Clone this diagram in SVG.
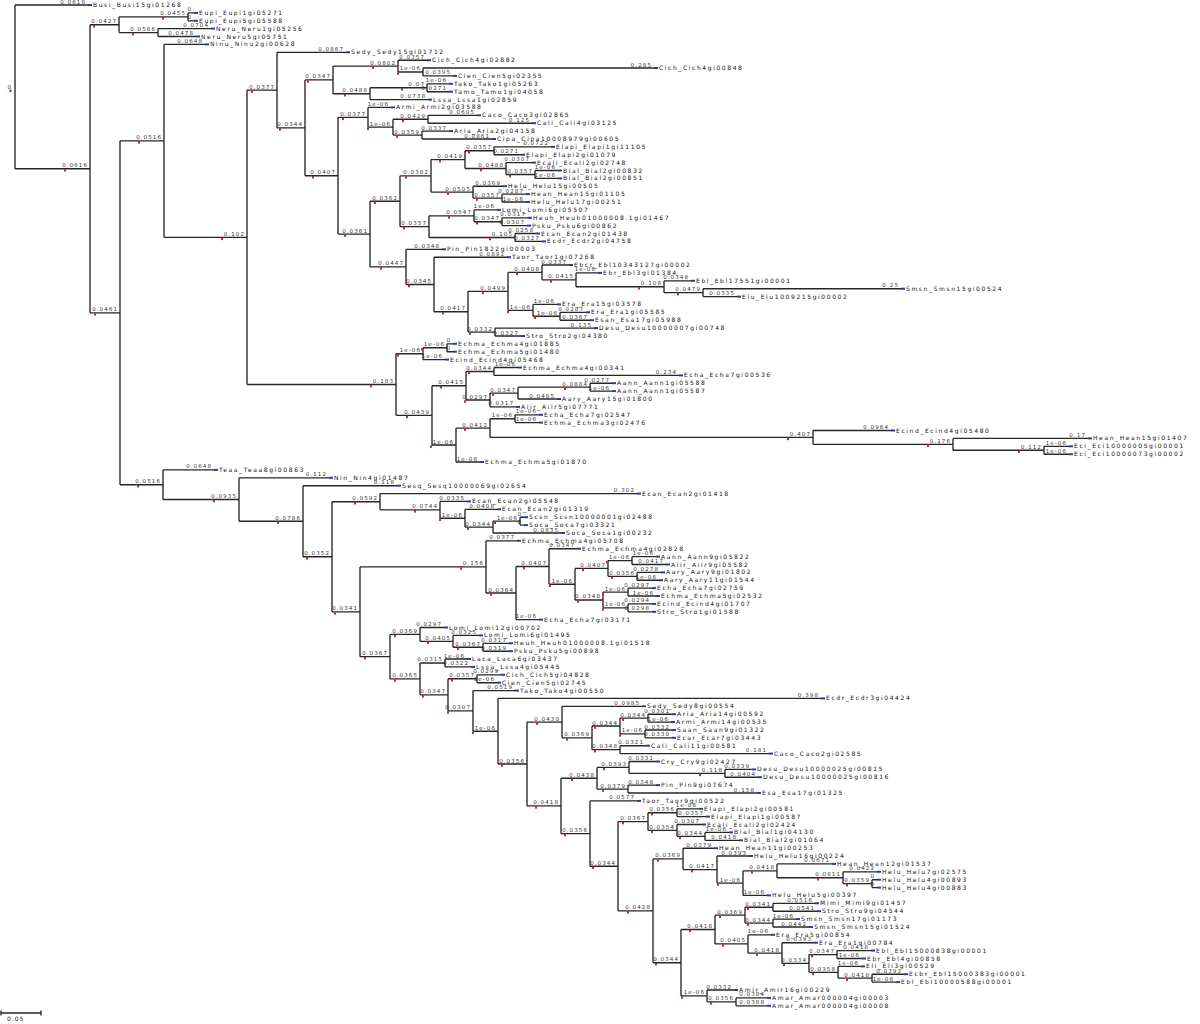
<svg xmlns="http://www.w3.org/2000/svg" width="1200" height="1024" viewBox="0 0 1200 1024">
<style>
.e{stroke:#262626;stroke-width:1.35;fill:none}
.n{font-family:"DejaVu Sans",sans-serif;font-size:6px;letter-spacing:1.6px;fill:#111}
.b{font-family:"DejaVu Sans",sans-serif;font-size:5.5px;letter-spacing:1.1px;fill:#333;text-anchor:end}
.u{width:4px;height:2px;fill:#2a35c8}
.r{width:2px;height:2.5px;fill:#cc2a2a}
</style>
<rect width="1200" height="1024" fill="#fff"/>
<g id="connectors">
<path class="e" d="M15,5V168.75M15,5H88M15,168.75H90"/>
<path class="e" d="M90,24.7V312.8M90,24.7H119M90,312.8H120"/>
<path class="e" d="M119,16.85V32.55M119,16.85H188M119,32.55H158"/>
<path class="e" d="M188,12.9V20.8M188,12.9H194M188,20.8H194"/>
<path class="e" d="M158,28.6V36.5M158,28.6H211M158,36.5H196"/>
<path class="e" d="M120,140.85V484.7M120,140.85H164M120,484.7H163"/>
<path class="e" d="M164,44.4V237.3M164,44.4H205M164,237.3H247"/>
<path class="e" d="M247,90.05V384.5M247,90.05H277M247,384.5H396"/>
<path class="e" d="M277,52.3V127.8M277,52.3H346M277,127.8H305"/>
<path class="e" d="M305,79.9V175.7M305,79.9H333M305,175.7H338"/>
<path class="e" d="M333,66.1V93.7M333,66.1H398M333,93.7H370"/>
<path class="e" d="M398,60.2V71.95M398,60.2H427M398,71.95H423"/>
<path class="e" d="M423,68V75.9M423,68H654M423,75.9H453"/>
<path class="e" d="M370,87.75V99.6M370,87.75H427M370,99.6H428"/>
<path class="e" d="M427,83.8V91.7M427,83.8H449M427,91.7H449"/>
<path class="e" d="M338,117.3V234.05M338,117.3H368M338,234.05H370"/>
<path class="e" d="M368,107.4V127.15M368,107.4H391M368,127.15H393"/>
<path class="e" d="M393,119.25V135.05M393,119.25H428M393,135.05H422"/>
<path class="e" d="M428,115.3V123.2M428,115.3H477M428,123.2H532"/>
<path class="e" d="M422,131.1V139M422,131.1H449M422,139H492"/>
<path class="e" d="M370,201.2V266.9M370,201.2H400M370,266.9H406"/>
<path class="e" d="M400,175.85V226.6M400,175.85H431M400,226.6H429"/>
<path class="e" d="M431,159.6V192.1M431,159.6H465M431,192.1H473"/>
<path class="e" d="M465,150.75V168.5M465,150.75H494M465,168.5H506"/>
<path class="e" d="M494,146.8V154.7M494,146.8H551M494,154.7H521"/>
<path class="e" d="M506,162.6V174.45M506,162.6H532M506,174.45H535"/>
<path class="e" d="M535,170.5V178.4M535,170.5H558M535,178.4H558"/>
<path class="e" d="M473,186.2V198.05M473,186.2H503M473,198.05H502"/>
<path class="e" d="M502,194.1V202M502,194.1H526M502,202H526"/>
<path class="e" d="M429,215.8V237.45M429,215.8H474M429,237.45H515"/>
<path class="e" d="M474,209.9V221.7M474,209.9H497M474,221.7H502"/>
<path class="e" d="M502,217.8V225.6M502,217.8H528M502,225.6H527"/>
<path class="e" d="M515,233.5V241.4M515,233.5H536M515,241.4H542"/>
<path class="e" d="M406,249.3V284.45M406,249.3H442M406,284.45H434"/>
<path class="e" d="M434,257.2V311.7M434,257.2H507M434,311.7H468"/>
<path class="e" d="M468,291.35V332.05M468,291.35H508M468,332.05H495"/>
<path class="e" d="M508,272.4V310.3M508,272.4H542M508,310.3H533"/>
<path class="e" d="M542,265V279.8M542,265H569M542,279.8H576"/>
<path class="e" d="M576,272.9V286.7M576,272.9H598M576,286.7H664"/>
<path class="e" d="M664,280.8V292.65M664,280.8H691M664,292.65H703"/>
<path class="e" d="M703,288.7V296.6M703,288.7H901M703,296.6H737"/>
<path class="e" d="M533,304.4V316.25M533,304.4H557M533,316.25H560"/>
<path class="e" d="M560,312.3V320.2M560,312.3H586M560,320.2H590"/>
<path class="e" d="M495,328.1V336M495,328.1H594M495,336H521"/>
<path class="e" d="M396,353.7V415.35M396,353.7H423M396,415.35H432"/>
<path class="e" d="M423,347.75V359.6M423,347.75H447M423,359.6H445"/>
<path class="e" d="M447,343.8V351.7M447,343.8H453M447,351.7H453"/>
<path class="e" d="M432,385.7V445M432,385.7H466M432,445H456"/>
<path class="e" d="M466,371.45V400M466,371.45H494M466,400H490"/>
<path class="e" d="M494,367.5V375.4M494,367.5H518M494,375.4H679"/>
<path class="e" d="M490,393.1V406.9M490,393.1H518M490,406.9H516"/>
<path class="e" d="M518,387.15V399M518,387.15H590M518,399H557"/>
<path class="e" d="M590,383.2V391.1M590,383.2H612M590,391.1H612"/>
<path class="e" d="M456,428.05V462M456,428.05H490M456,462H480"/>
<path class="e" d="M490,418.7V437.4M490,418.7H515M490,437.4H813"/>
<path class="e" d="M515,414.8V422.6M515,414.8H539M515,422.6H539"/>
<path class="e" d="M813,430.5V444.3M813,430.5H891M813,444.3H953"/>
<path class="e" d="M953,438.4V450.25M953,438.4H1088M953,450.25H1044"/>
<path class="e" d="M1044,446.3V454.2M1044,446.3H1069M1044,454.2H1069"/>
<path class="e" d="M163,469.9V499.5M163,469.9H214M163,499.5H239"/>
<path class="e" d="M239,477.8V521.2M239,477.8H329M239,521.2H303"/>
<path class="e" d="M303,485.7V556.75M303,485.7H397M303,556.75H332"/>
<path class="e" d="M332,501.7V611.8M332,501.7H380M332,611.8H360"/>
<path class="e" d="M380,493.6V509.8M380,493.6H637M380,509.8H440"/>
<path class="e" d="M440,501.4V518.2M440,501.4H467M440,518.2H465"/>
<path class="e" d="M465,509.3V527.1M465,509.3H497M465,527.1H493"/>
<path class="e" d="M493,521.15V533M493,521.15H520M493,533H561"/>
<path class="e" d="M520,517.2V525.1M520,517.2H524M520,525.1H524"/>
<path class="e" d="M360,566.9V656.65M360,566.9H486M360,656.65H390"/>
<path class="e" d="M486,540.8V593M486,540.8H517M486,593H516"/>
<path class="e" d="M516,566.45V619.6M516,566.45H549M516,619.6H539"/>
<path class="e" d="M549,548.7V584.2M549,548.7H577M549,584.2H575"/>
<path class="e" d="M575,568.4V599.95M575,568.4H608M575,599.95H603"/>
<path class="e" d="M608,560.55V576.3M608,560.55H632M608,576.3H637"/>
<path class="e" d="M632,556.6V564.5M632,556.6H656M632,564.5H666"/>
<path class="e" d="M637,572.4V580.2M637,572.4H661M637,580.2H659"/>
<path class="e" d="M603,592.05V607.85M603,592.05H628M603,607.85H628"/>
<path class="e" d="M628,588.1V596M628,588.1H652M628,596H656"/>
<path class="e" d="M628,603.9V611.8M628,603.9H652M628,611.8H652"/>
<path class="e" d="M390,634.4V678.9M390,634.4H420M390,678.9H420"/>
<path class="e" d="M420,627.5V641.3M420,627.5H444M420,641.3H453"/>
<path class="e" d="M453,635.4V647.25M453,635.4H479M453,647.25H483"/>
<path class="e" d="M483,643.3V651.2M483,643.3H509M483,651.2H509"/>
<path class="e" d="M420,662.95V694.8M420,662.95H445M420,694.8H448"/>
<path class="e" d="M445,659V666.9M445,659H467M445,666.9H471"/>
<path class="e" d="M448,678.75V710.9M448,678.75H477M448,710.9H473"/>
<path class="e" d="M477,674.8V682.7M477,674.8H501M477,682.7H497"/>
<path class="e" d="M473,690.6V731.2M473,690.6H515M473,731.2H498"/>
<path class="e" d="M498,698.4V764M498,698.4H821M498,764H527"/>
<path class="e" d="M527,722.05V805.9M527,722.05H562M527,805.9H561"/>
<path class="e" d="M562,706.3V737.8M562,706.3H642M562,737.8H592"/>
<path class="e" d="M592,726V749.65M592,726H620M592,749.65H620"/>
<path class="e" d="M620,718.15V733.9M620,718.15H648M620,733.9H645"/>
<path class="e" d="M648,714.2V722.1M648,714.2H672M648,722.1H671"/>
<path class="e" d="M645,730V737.8M645,730H672M645,737.8H672"/>
<path class="e" d="M620,745.7V753.6M620,745.7H646M620,753.6H769"/>
<path class="e" d="M561,778.2V833.55M561,778.2H597M561,833.55H590"/>
<path class="e" d="M597,767.4V789.05M597,767.4H629M597,789.05H628"/>
<path class="e" d="M629,761.5V773.3M629,761.5H656M629,773.3H725"/>
<path class="e" d="M725,769.4V777.2M725,769.4H752M725,777.2H758"/>
<path class="e" d="M628,785.1V793M628,785.1H656M628,793H757"/>
<path class="e" d="M590,800.9V866.2M590,800.9H637M590,866.2H618"/>
<path class="e" d="M618,821.55V910.8M618,821.55H648M618,910.8H653"/>
<path class="e" d="M648,812.7V830.4M648,812.7H677M648,830.4H677"/>
<path class="e" d="M677,808.8V816.6M677,808.8H699M677,816.6H706"/>
<path class="e" d="M677,824.5V836.35M677,824.5H702M677,836.35H705"/>
<path class="e" d="M705,832.4V840.3M705,832.4H729M705,840.3H739"/>
<path class="e" d="M653,858.9V962.7M653,858.9H683M653,962.7H681"/>
<path class="e" d="M683,848.2V869.55M683,848.2H714M683,869.55H717"/>
<path class="e" d="M717,856V883.1M717,856H749M717,883.1H743"/>
<path class="e" d="M743,870.8V895.4M743,870.8H777M743,895.4H767"/>
<path class="e" d="M777,863.9V877.7M777,863.9H832M777,877.7H843"/>
<path class="e" d="M843,871.8V883.65M843,871.8H877M843,883.65H872"/>
<path class="e" d="M872,879.7V887.6M872,879.7H877M872,887.6H877"/>
<path class="e" d="M681,929.5V995.9M681,929.5H715M681,995.9H707"/>
<path class="e" d="M715,915.15V943.9M715,915.15H745M715,943.9H748"/>
<path class="e" d="M745,907.25V923.05M745,907.25H773M745,923.05H773"/>
<path class="e" d="M773,903.3V911.2M773,903.3H815M773,911.2H817"/>
<path class="e" d="M773,919.1V927M773,919.1H796M773,927H809"/>
<path class="e" d="M748,934.8V953.05M748,934.8H771M748,953.05H782"/>
<path class="e" d="M782,942.7V963.4M782,942.7H814M782,963.4H809"/>
<path class="e" d="M809,954.55V972.3M809,954.55H837M809,972.3H838"/>
<path class="e" d="M837,950.6V958.5M837,950.6H871M837,958.5H862"/>
<path class="e" d="M838,966.4V978.15M838,966.4H861M838,978.15H872"/>
<path class="e" d="M872,974.2V982.1M872,974.2H904M872,982.1H896"/>
<path class="e" d="M707,990V1001.85M707,990H734M707,1001.85H736"/>
<path class="e" d="M736,997.9V1005.8M736,997.9H767M736,1005.8H767"/>
</g>
<g id="inner-nodes">
<g id="root"><rect class="r" x="9.5" y="89.5"/><text class="b" x="12" y="89">0</text></g>
<g id="nA"><rect class="r" x="64" y="169.05"/><text class="b" x="88" y="167.25">0.0616</text></g>
<g id="nB"><rect class="r" x="93" y="25"/><text class="b" x="117" y="23.2">0.0427</text></g>
<g id="nC"><rect class="r" x="162" y="17.15"/><text class="b" x="186" y="15.35">0.0455</text></g>
<g id="nD"><rect class="r" x="132" y="32.85"/><text class="b" x="156" y="31.05">0.0586</text></g>
<g id="nBb"><rect class="r" x="94" y="313.1"/><text class="b" x="118" y="311.3">0.0461</text></g>
<g id="nE"><rect class="r" x="138" y="141.15"/><text class="b" x="162" y="139.35">0.0516</text></g>
<g id="nG"><rect class="r" x="221" y="237.6"/><text class="b" x="245" y="235.8">0.102</text></g>
<g id="nH"><rect class="r" x="251" y="90.35"/><text class="b" x="275" y="88.55">0.0377</text></g>
<g id="nJ"><rect class="r" x="279" y="128.1"/><text class="b" x="303" y="126.3">0.0344</text></g>
<g id="nK"><rect class="r" x="307" y="80.2"/><text class="b" x="331" y="78.4">0.0347</text></g>
<g id="nM"><rect class="r" x="312" y="176"/><text class="b" x="336" y="174.2">0.0407</text></g>
<g id="nN"><rect class="r" x="372" y="66.4"/><text class="b" x="396" y="64.6">0.0802</text></g>
<g id="nP"><rect class="r" x="397" y="72.25"/><text class="b" x="421" y="70.45">1e-06</text></g>
<g id="nO"><rect class="r" x="344" y="94"/><text class="b" x="368" y="92.2">0.0488</text></g>
<g id="nQ"><rect class="r" x="401" y="88.05"/><text class="b" x="425" y="86.25">0.07</text></g>
<g id="nS"><rect class="r" x="342" y="117.6"/><text class="b" x="366" y="115.8">0.0377</text></g>
<g id="nU"><rect class="r" x="367" y="127.45"/><text class="b" x="391" y="125.65">1e-06</text></g>
<g id="nV"><rect class="r" x="402" y="119.55"/><text class="b" x="426" y="117.75">0.0429</text></g>
<g id="nW"><rect class="r" x="396" y="135.35"/><text class="b" x="420" y="133.55">0.0359</text></g>
<g id="nT"><rect class="r" x="344" y="234.35"/><text class="b" x="368" y="232.55">0.0361</text></g>
<g id="nX"><rect class="r" x="374" y="201.5"/><text class="b" x="398" y="199.7">0.0362</text></g>
<g id="nY"><rect class="r" x="380" y="267.2"/><text class="b" x="404" y="265.4">0.0447</text></g>
<g id="nZ"><rect class="r" x="405" y="176.15"/><text class="b" x="429" y="174.35">0.0382</text></g>
<g id="nAA"><rect class="r" x="403" y="226.9"/><text class="b" x="427" y="225.1">0.0357</text></g>
<g id="nAB"><rect class="r" x="439" y="159.9"/><text class="b" x="463" y="158.1">0.0419</text></g>
<g id="nAC"><rect class="r" x="447" y="192.4"/><text class="b" x="471" y="190.6">0.0505</text></g>
<g id="nAD"><rect class="r" x="468" y="151.05"/><text class="b" x="492" y="149.25">0.0357</text></g>
<g id="nAE"><rect class="r" x="480" y="168.8"/><text class="b" x="504" y="167">0.0488</text></g>
<g id="nAF"><rect class="r" x="509" y="174.75"/><text class="b" x="533" y="172.95">0.0357</text></g>
<g id="nAG"><rect class="r" x="476" y="198.35"/><text class="b" x="500" y="196.55">0.0357</text></g>
<g id="nAH"><rect class="r" x="448" y="216.1"/><text class="b" x="472" y="214.3">0.0547</text></g>
<g id="nAI"><rect class="r" x="476" y="222"/><text class="b" x="500" y="220.2">0.0347</text></g>
<g id="nAJ"><rect class="r" x="489" y="237.75"/><text class="b" x="513" y="235.95">0.105</text></g>
<g id="nAK"><rect class="r" x="408" y="284.75"/><text class="b" x="432" y="282.95">0.0345</text></g>
<g id="nAL"><rect class="r" x="442" y="312"/><text class="b" x="466" y="310.2">0.0417</text></g>
<g id="nAN"><rect class="r" x="482" y="291.65"/><text class="b" x="506" y="289.85">0.0499</text></g>
<g id="nAO"><rect class="r" x="516" y="272.7"/><text class="b" x="540" y="270.9">0.0408</text></g>
<g id="nAP"><rect class="r" x="550" y="280.1"/><text class="b" x="574" y="278.3">0.0415</text></g>
<g id="nAQ"><rect class="r" x="638" y="287"/><text class="b" x="662" y="285.2">0.108</text></g>
<g id="nAR"><rect class="r" x="677" y="292.95"/><text class="b" x="701" y="291.15">0.0479</text></g>
<g id="nAS"><rect class="r" x="507" y="310.6"/><text class="b" x="531" y="308.8">1e-06</text></g>
<g id="nAT"><rect class="r" x="534" y="316.55"/><text class="b" x="558" y="314.75">1e-06</text></g>
<g id="nAM"><rect class="r" x="469" y="332.35"/><text class="b" x="493" y="330.55">0.0332</text></g>
<g id="nI"><rect class="r" x="370" y="384.8"/><text class="b" x="394" y="383">0.183</text></g>
<g id="nAU"><rect class="r" x="397" y="354"/><text class="b" x="421" y="352.2">1e-06</text></g>
<g id="nAV"><rect class="r" x="421" y="348.05"/><text class="b" x="445" y="346.25">1e-06</text></g>
<g id="nAW"><rect class="r" x="406" y="415.65"/><text class="b" x="430" y="413.85">0.0439</text></g>
<g id="nAX"><rect class="r" x="440" y="386"/><text class="b" x="464" y="384.2">0.0415</text></g>
<g id="nAY"><rect class="r" x="468" y="371.75"/><text class="b" x="492" y="369.95">0.0344</text></g>
<g id="nAZ"><rect class="r" x="464" y="400.3"/><text class="b" x="488" y="398.5">0.0297</text></g>
<g id="nBA"><rect class="r" x="492" y="393.4"/><text class="b" x="516" y="391.6">0.0347</text></g>
<g id="nBB"><rect class="r" x="564" y="387.45"/><text class="b" x="588" y="385.65">0.0884</text></g>
<g id="nBC"><rect class="r" x="430" y="445.3"/><text class="b" x="454" y="443.5">1e-06</text></g>
<g id="nBD"><rect class="r" x="464" y="428.35"/><text class="b" x="488" y="426.55">0.0412</text></g>
<g id="nBE"><rect class="r" x="489" y="419"/><text class="b" x="513" y="417.2">1e-06</text></g>
<g id="nBF"><rect class="r" x="787" y="437.7"/><text class="b" x="811" y="435.9">0.407</text></g>
<g id="nBG"><rect class="r" x="927" y="444.6"/><text class="b" x="951" y="442.8">0.176</text></g>
<g id="nBH"><rect class="r" x="1018" y="450.55"/><text class="b" x="1042" y="448.75">0.112</text></g>
<g id="nF"><rect class="r" x="137" y="485"/><text class="b" x="161" y="483.2">0.0516</text></g>
<g id="nBI"><rect class="r" x="213" y="499.8"/><text class="b" x="237" y="498">0.0935</text></g>
<g id="nBJ"><rect class="r" x="277" y="521.5"/><text class="b" x="301" y="519.7">0.0786</text></g>
<g id="nBK"><rect class="r" x="306" y="557.05"/><text class="b" x="330" y="555.25">0.0352</text></g>
<g id="nBL"><rect class="r" x="354" y="502"/><text class="b" x="378" y="500.2">0.0592</text></g>
<g id="nBM"><rect class="r" x="414" y="510.1"/><text class="b" x="438" y="508.3">0.0744</text></g>
<g id="nBN"><rect class="r" x="439" y="518.5"/><text class="b" x="463" y="516.7">1e-06</text></g>
<g id="nBO"><rect class="r" x="467" y="527.4"/><text class="b" x="491" y="525.6">0.0344</text></g>
<g id="nBP"><rect class="r" x="494" y="521.45"/><text class="b" x="518" y="519.65">1e-06</text></g>
<g id="nCA"><rect class="r" x="334" y="612.1"/><text class="b" x="358" y="610.3">0.0341</text></g>
<g id="nBQ"><rect class="r" x="460" y="567.2"/><text class="b" x="484" y="565.4">0.156</text></g>
<g id="nBR"><rect class="r" x="490" y="593.3"/><text class="b" x="514" y="591.5">0.0364</text></g>
<g id="nBS"><rect class="r" x="523" y="566.75"/><text class="b" x="547" y="564.95">0.0407</text></g>
<g id="nBT"><rect class="r" x="549" y="584.5"/><text class="b" x="573" y="582.7">1e-06</text></g>
<g id="nBU"><rect class="r" x="582" y="568.7"/><text class="b" x="606" y="566.9">0.0407</text></g>
<g id="nBV"><rect class="r" x="606" y="560.85"/><text class="b" x="630" y="559.05">1e-06</text></g>
<g id="nBW"><rect class="r" x="611" y="576.6"/><text class="b" x="635" y="574.8">0.0356</text></g>
<g id="nBX"><rect class="r" x="577" y="600.25"/><text class="b" x="601" y="598.45">0.0348</text></g>
<g id="nBY"><rect class="r" x="602" y="592.35"/><text class="b" x="626" y="590.55">1e-06</text></g>
<g id="nBZ"><rect class="r" x="602" y="608.15"/><text class="b" x="626" y="606.35">1e-06</text></g>
<g id="nCB"><rect class="r" x="364" y="656.95"/><text class="b" x="388" y="655.15">0.0367</text></g>
<g id="nCC"><rect class="r" x="394" y="634.7"/><text class="b" x="418" y="632.9">0.0369</text></g>
<g id="nCD"><rect class="r" x="427" y="641.6"/><text class="b" x="451" y="639.8">0.0405</text></g>
<g id="nCE"><rect class="r" x="457" y="647.55"/><text class="b" x="481" y="645.75">0.0367</text></g>
<g id="nCF"><rect class="r" x="394" y="679.2"/><text class="b" x="418" y="677.4">0.0365</text></g>
<g id="nCG"><rect class="r" x="419" y="663.25"/><text class="b" x="443" y="661.45">0.0315</text></g>
<g id="nCH"><rect class="r" x="422" y="695.1"/><text class="b" x="446" y="693.3">0.0347</text></g>
<g id="nCI"><rect class="r" x="451" y="679.05"/><text class="b" x="475" y="677.25">0.0357</text></g>
<g id="nCJ"><rect class="r" x="447" y="711.2"/><text class="b" x="471" y="709.4">0.0307</text></g>
<g id="nCK"><rect class="r" x="472" y="731.5"/><text class="b" x="496" y="729.7">1e-06</text></g>
<g id="nCL"><rect class="r" x="501" y="764.3"/><text class="b" x="525" y="762.5">0.0356</text></g>
<g id="nCM"><rect class="r" x="536" y="722.35"/><text class="b" x="560" y="720.55">0.0430</text></g>
<g id="nCN"><rect class="r" x="566" y="738.1"/><text class="b" x="590" y="736.3">0.0369</text></g>
<g id="nCO"><rect class="r" x="594" y="726.3"/><text class="b" x="618" y="724.5">0.0344</text></g>
<g id="nCP"><rect class="r" x="622" y="718.45"/><text class="b" x="646" y="716.65">0.0344</text></g>
<g id="nCQ"><rect class="r" x="619" y="734.2"/><text class="b" x="643" y="732.4">1e-06</text></g>
<g id="nCR"><rect class="r" x="594" y="749.95"/><text class="b" x="618" y="748.15">0.0348</text></g>
<g id="nCS"><rect class="r" x="535" y="806.2"/><text class="b" x="559" y="804.4">0.0418</text></g>
<g id="nCT"><rect class="r" x="571" y="778.5"/><text class="b" x="595" y="776.7">0.0438</text></g>
<g id="nCU"><rect class="r" x="603" y="767.7"/><text class="b" x="627" y="765.9">0.0393</text></g>
<g id="nCV"><rect class="r" x="699" y="773.6"/><text class="b" x="723" y="771.8">0.118</text></g>
<g id="nCW"><rect class="r" x="602" y="789.35"/><text class="b" x="626" y="787.55">0.0379</text></g>
<g id="nCX"><rect class="r" x="564" y="833.85"/><text class="b" x="588" y="832.05">0.0356</text></g>
<g id="nCY"><rect class="r" x="592" y="866.5"/><text class="b" x="616" y="864.7">0.0344</text></g>
<g id="nCZ"><rect class="r" x="622" y="821.85"/><text class="b" x="646" y="820.05">0.0367</text></g>
<g id="nDA"><rect class="r" x="651" y="813"/><text class="b" x="675" y="811.2">0.0356</text></g>
<g id="nDB"><rect class="r" x="651" y="830.7"/><text class="b" x="675" y="828.9">0.0354</text></g>
<g id="nDC"><rect class="r" x="679" y="836.65"/><text class="b" x="703" y="834.85">0.0344</text></g>
<g id="nDD"><rect class="r" x="627" y="911.1"/><text class="b" x="651" y="909.3">0.0428</text></g>
<g id="nDF"><rect class="r" x="657" y="859.2"/><text class="b" x="681" y="857.4">0.0369</text></g>
<g id="nDG"><rect class="r" x="691" y="869.85"/><text class="b" x="715" y="868.05">0.0417</text></g>
<g id="nDH"><rect class="r" x="717" y="883.4"/><text class="b" x="741" y="881.6">1e-06</text></g>
<g id="nDI"><rect class="r" x="751" y="871.1"/><text class="b" x="775" y="869.3">0.0418</text></g>
<g id="nDJ"><rect class="r" x="817" y="878"/><text class="b" x="841" y="876.2">0.0811</text></g>
<g id="nDK"><rect class="r" x="846" y="883.95"/><text class="b" x="870" y="882.15">0.0359</text></g>
<g id="nDE"><rect class="r" x="655" y="963"/><text class="b" x="679" y="961.2">0.0344</text></g>
<g id="nDL"><rect class="r" x="689" y="929.8"/><text class="b" x="713" y="928">0.0418</text></g>
<g id="nDM"><rect class="r" x="719" y="915.45"/><text class="b" x="743" y="913.65">0.0369</text></g>
<g id="nDN"><rect class="r" x="747" y="907.55"/><text class="b" x="771" y="905.75">0.0341</text></g>
<g id="nDO"><rect class="r" x="747" y="923.35"/><text class="b" x="771" y="921.55">0.0344</text></g>
<g id="nDP"><rect class="r" x="722" y="944.2"/><text class="b" x="746" y="942.4">0.0405</text></g>
<g id="nDQ"><rect class="r" x="756" y="953.35"/><text class="b" x="780" y="951.55">0.0418</text></g>
<g id="nDR"><rect class="r" x="783" y="963.7"/><text class="b" x="807" y="961.9">0.0334</text></g>
<g id="nDS"><rect class="r" x="811" y="954.85"/><text class="b" x="835" y="953.05">0.0347</text></g>
<g id="nDT"><rect class="r" x="812" y="972.6"/><text class="b" x="836" y="970.8">0.0358</text></g>
<g id="nDU"><rect class="r" x="846" y="978.45"/><text class="b" x="870" y="976.65">0.0418</text></g>
<g id="nDV"><rect class="r" x="681" y="996.2"/><text class="b" x="705" y="994.4">1e-06</text></g>
<g id="nDW"><rect class="r" x="710" y="1002.15"/><text class="b" x="734" y="1000.35">0.0356</text></g>
</g>
<g id="leaves">
<g id="L0"><rect class="u" x="88" y="4"/><text class="b" x="86" y="4">0.0616</text><text class="n" x="93" y="7">Busi_Busi15gi01268</text></g>
<g id="L1"><rect class="u" x="194" y="11.9"/><text class="b" x="192" y="11.4">0</text><text class="n" x="199" y="14.9">Eupi_Eupi1gi05271</text></g>
<g id="L2"><rect class="u" x="194" y="19.8"/><text class="b" x="192" y="19.3">0</text><text class="n" x="199" y="22.8">Eupi_Eupi5gi05588</text></g>
<g id="L3"><rect class="u" x="211" y="27.6"/><text class="b" x="209" y="27.1">0.0704</text><text class="n" x="216" y="30.6">Neru_Neru1gi05256</text></g>
<g id="L4"><rect class="u" x="196" y="35.5"/><text class="b" x="194" y="35">0.0478</text><text class="n" x="201" y="38.5">Neru_Neru5gi05751</text></g>
<g id="L5"><rect class="u" x="205" y="43.4"/><text class="b" x="203" y="42.9">0.0648</text><text class="n" x="210" y="46.4">Ninu_Ninu2gi00628</text></g>
<g id="L6"><rect class="u" x="346" y="51.3"/><text class="b" x="344" y="50.8">0.0867</text><text class="n" x="351" y="54.3">Sedy_Sedy15gi01712</text></g>
<g id="L7"><rect class="u" x="427" y="59.2"/><text class="b" x="425" y="58.7">0.0357</text><text class="n" x="432" y="62.2">Cich_Cich4gi02882</text></g>
<g id="L8"><rect class="u" x="654" y="67"/><text class="b" x="652" y="66.5">0.285</text><text class="n" x="659" y="70">Cich_Cich4gi00848</text></g>
<g id="L9"><rect class="u" x="453" y="74.9"/><text class="b" x="451" y="74.4">0.0395</text><text class="n" x="458" y="77.9">Cien_Cien5gi02355</text></g>
<g id="L10"><rect class="u" x="449" y="82.8"/><text class="b" x="447" y="82.3">1e-06</text><text class="n" x="454" y="85.8">Tako_Tako1gi05263</text></g>
<g id="L11"><rect class="u" x="449" y="90.7"/><text class="b" x="447" y="90.2">0.0271</text><text class="n" x="454" y="93.7">Tamo_Tamo1gi04058</text></g>
<g id="L12"><rect class="u" x="428" y="98.6"/><text class="b" x="426" y="98.1">0.0738</text><text class="n" x="433" y="101.6">Lssa_Lssa1gi02859</text></g>
<g id="L13"><rect class="u" x="391" y="106.4"/><text class="b" x="389" y="105.9">1e-06</text><text class="n" x="396" y="109.4">Armi_Armi2gi03588</text></g>
<g id="L14"><rect class="u" x="477" y="114.3"/><text class="b" x="475" y="113.8">0.0605</text><text class="n" x="482" y="117.3">Caco_Caco3gi02865</text></g>
<g id="L15"><rect class="u" x="532" y="122.2"/><text class="b" x="530" y="121.7">0.125</text><text class="n" x="537" y="125.2">Cali_Cali4gi03125</text></g>
<g id="L16"><rect class="u" x="449" y="130.1"/><text class="b" x="447" y="129.6">0.0337</text><text class="n" x="454" y="133.1">Aria_Aria2gi04158</text></g>
<g id="L17"><rect class="u" x="492" y="138"/><text class="b" x="490" y="137.5">0.0861</text><text class="n" x="497" y="141">Cipa_Cipa10008979gi00605</text></g>
<g id="L18"><rect class="u" x="551" y="145.8"/><text class="b" x="549" y="145.3">0.0722</text><text class="n" x="556" y="148.8">Elapi_Elapi1gi11105</text></g>
<g id="L19"><rect class="u" x="521" y="153.7"/><text class="b" x="519" y="153.2">0.0271</text><text class="n" x="526" y="156.7">Elapi_Elapi2gi01079</text></g>
<g id="L20"><rect class="u" x="532" y="161.6"/><text class="b" x="530" y="161.1">0.0307</text><text class="n" x="537" y="164.6">Ecali_Ecali2gi02748</text></g>
<g id="L21"><rect class="u" x="558" y="169.5"/><text class="b" x="556" y="169">1e-06</text><text class="n" x="563" y="172.5">Bial_Bial2gi00832</text></g>
<g id="L22"><rect class="u" x="558" y="177.4"/><text class="b" x="556" y="176.9">1e-06</text><text class="n" x="563" y="180.4">Bial_Bial2gi00851</text></g>
<g id="L23"><rect class="u" x="503" y="185.2"/><text class="b" x="501" y="184.7">0.0369</text><text class="n" x="508" y="188.2">Helu_Helu15gi00505</text></g>
<g id="L24"><rect class="u" x="526" y="193.1"/><text class="b" x="524" y="192.6">0.0287</text><text class="n" x="531" y="196.1">Hean_Hean15gi01105</text></g>
<g id="L25"><rect class="u" x="526" y="201"/><text class="b" x="524" y="200.5">1e-06</text><text class="n" x="531" y="204">Helu_Helu17gi00251</text></g>
<g id="L26"><rect class="u" x="497" y="208.9"/><text class="b" x="495" y="208.4">1e-06</text><text class="n" x="502" y="211.9">Lomi_Lomi6gi05507</text></g>
<g id="L27"><rect class="u" x="528" y="216.8"/><text class="b" x="526" y="216.3">0.0317</text><text class="n" x="533" y="219.8">Heuh_Heuh01000008.1gi01467</text></g>
<g id="L28"><rect class="u" x="527" y="224.6"/><text class="b" x="525" y="224.1">0.0307</text><text class="n" x="532" y="227.6">Psku_Psku6gi00862</text></g>
<g id="L29"><rect class="u" x="536" y="232.5"/><text class="b" x="534" y="232">0.0258</text><text class="n" x="541" y="235.5">Ecan_Ecan2gi01438</text></g>
<g id="L30"><rect class="u" x="542" y="240.4"/><text class="b" x="540" y="239.9">0.0327</text><text class="n" x="547" y="243.4">Ecdr_Ecdr2gi04758</text></g>
<g id="L31"><rect class="u" x="442" y="248.3"/><text class="b" x="440" y="247.8">0.0348</text><text class="n" x="447" y="251.3">Pin_Pin1822gi00003</text></g>
<g id="L32"><rect class="u" x="507" y="256.2"/><text class="b" x="505" y="255.7">0.0891</text><text class="n" x="512" y="259.2">Taor_Taor1gi07268</text></g>
<g id="L33"><rect class="u" x="569" y="264"/><text class="b" x="567" y="263.5">0.0337</text><text class="n" x="574" y="267">Ebcr_Ebl10343127gi00002</text></g>
<g id="L34"><rect class="u" x="598" y="271.9"/><text class="b" x="596" y="271.4">1e-06</text><text class="n" x="603" y="274.9">Ebr_Ebl3gi01384</text></g>
<g id="L35"><rect class="u" x="691" y="279.8"/><text class="b" x="689" y="279.3">0.0348</text><text class="n" x="696" y="282.8">Ebl_Ebl17551gi00001</text></g>
<g id="L36"><rect class="u" x="901" y="287.7"/><text class="b" x="899" y="287.2">0.25</text><text class="n" x="906" y="290.7">Smsn_Smsn15gi00524</text></g>
<g id="L37"><rect class="u" x="737" y="295.6"/><text class="b" x="735" y="295.1">0.0335</text><text class="n" x="742" y="298.6">Elu_Elu1009215gi00002</text></g>
<g id="L38"><rect class="u" x="557" y="303.4"/><text class="b" x="555" y="302.9">1e-06</text><text class="n" x="562" y="306.4">Era_Era15gi03578</text></g>
<g id="L39"><rect class="u" x="586" y="311.3"/><text class="b" x="584" y="310.8">0.0287</text><text class="n" x="591" y="314.3">Era_Era1gi05585</text></g>
<g id="L40"><rect class="u" x="590" y="319.2"/><text class="b" x="588" y="318.7">0.0367</text><text class="n" x="595" y="322.2">Esan_Esa17gi05988</text></g>
<g id="L41"><rect class="u" x="594" y="327.1"/><text class="b" x="592" y="326.6">0.135</text><text class="n" x="599" y="330.1">Desu_Desu10000007gi00748</text></g>
<g id="L42"><rect class="u" x="521" y="335"/><text class="b" x="519" y="334.5">0.0327</text><text class="n" x="526" y="338">Stro_Stro2gi04380</text></g>
<g id="L43"><rect class="u" x="453" y="342.8"/><text class="b" x="451" y="342.3">0</text><text class="n" x="458" y="345.8">Echma_Echma4gi01885</text></g>
<g id="L44"><rect class="u" x="453" y="350.7"/><text class="b" x="451" y="350.2">0</text><text class="n" x="458" y="353.7">Echma_Echma5gi01480</text></g>
<g id="L45"><rect class="u" x="445" y="358.6"/><text class="b" x="443" y="358.1">1e-06</text><text class="n" x="450" y="361.6">Ecind_Ecind4gi05468</text></g>
<g id="L46"><rect class="u" x="518" y="366.5"/><text class="b" x="516" y="366">1e-06</text><text class="n" x="523" y="369.5">Echma_Echma4gi00341</text></g>
<g id="L47"><rect class="u" x="679" y="374.4"/><text class="b" x="677" y="373.9">0.234</text><text class="n" x="684" y="377.4">Echa_Echa7gi00536</text></g>
<g id="L48"><rect class="u" x="612" y="382.2"/><text class="b" x="610" y="381.7">0.0277</text><text class="n" x="617" y="385.2">Aann_Aann1gi05588</text></g>
<g id="L49"><rect class="u" x="612" y="390.1"/><text class="b" x="610" y="389.6">1e-06</text><text class="n" x="617" y="393.1">Aann_Aann1gi05587</text></g>
<g id="L50"><rect class="u" x="557" y="398"/><text class="b" x="555" y="397.5">0.0485</text><text class="n" x="562" y="401">Aary_Aary15gi01800</text></g>
<g id="L51"><rect class="u" x="516" y="405.9"/><text class="b" x="514" y="405.4">0.0317</text><text class="n" x="521" y="408.9">Aiir_Aiir5gi07771</text></g>
<g id="L52"><rect class="u" x="539" y="413.8"/><text class="b" x="537" y="413.3">1e-06</text><text class="n" x="544" y="416.8">Echa_Echa7gi02547</text></g>
<g id="L53"><rect class="u" x="539" y="421.6"/><text class="b" x="537" y="421.1">1e-06</text><text class="n" x="544" y="424.6">Echma_Echma3gi02476</text></g>
<g id="L54"><rect class="u" x="891" y="429.5"/><text class="b" x="889" y="429">0.0964</text><text class="n" x="896" y="432.5">Ecind_Ecind4gi05480</text></g>
<g id="L55"><rect class="u" x="1088" y="437.4"/><text class="b" x="1086" y="436.9">0.17</text><text class="n" x="1093" y="440.4">Hean_Hean15gi01407</text></g>
<g id="L56"><rect class="u" x="1069" y="445.3"/><text class="b" x="1067" y="444.8">1e-06</text><text class="n" x="1074" y="448.3">Eci_Eci10000005gi00001</text></g>
<g id="L57"><rect class="u" x="1069" y="453.2"/><text class="b" x="1067" y="452.7">1e-06</text><text class="n" x="1074" y="456.2">Eci_Eci10000073gi00002</text></g>
<g id="L58"><rect class="u" x="480" y="461"/><text class="b" x="478" y="460.5">1e-06</text><text class="n" x="485" y="464">Echma_Echma5gi01870</text></g>
<g id="L59"><rect class="u" x="214" y="468.9"/><text class="b" x="212" y="468.4">0.0648</text><text class="n" x="219" y="471.9">Teaa_Teaa8gi00863</text></g>
<g id="L60"><rect class="u" x="329" y="476.8"/><text class="b" x="327" y="476.3">0.112</text><text class="n" x="334" y="479.8">Nin_Nin4gi01487</text></g>
<g id="L61"><rect class="u" x="397" y="484.7"/><text class="b" x="395" y="484.2">0.118</text><text class="n" x="402" y="487.7">Sesq_Sesq10000069gi02654</text></g>
<g id="L62"><rect class="u" x="637" y="492.6"/><text class="b" x="635" y="492.1">0.302</text><text class="n" x="642" y="495.6">Ecan_Ecan2gi01418</text></g>
<g id="L63"><rect class="u" x="467" y="500.4"/><text class="b" x="465" y="499.9">0.0335</text><text class="n" x="472" y="503.4">Ecan_Ecan2gi05548</text></g>
<g id="L64"><rect class="u" x="497" y="508.3"/><text class="b" x="495" y="507.8">0.0408</text><text class="n" x="502" y="511.3">Ecan_Ecan2gi01319</text></g>
<g id="L65"><rect class="u" x="524" y="516.2"/><text class="b" x="522" y="515.7">0</text><text class="n" x="529" y="519.2">Scsn_Scsn10000001gi02488</text></g>
<g id="L66"><rect class="u" x="524" y="524.1"/><text class="b" x="522" y="523.6">0</text><text class="n" x="529" y="527.1">Soca_Soca7gi03321</text></g>
<g id="L67"><rect class="u" x="561" y="532"/><text class="b" x="559" y="531.5">0.0835</text><text class="n" x="566" y="535">Soca_Soca1gi00232</text></g>
<g id="L68"><rect class="u" x="517" y="539.8"/><text class="b" x="515" y="539.3">0.0377</text><text class="n" x="522" y="542.8">Echma_Echma4gi05708</text></g>
<g id="L69"><rect class="u" x="577" y="547.7"/><text class="b" x="575" y="547.2">0.0347</text><text class="n" x="582" y="550.7">Echma_Echma4gi02828</text></g>
<g id="L70"><rect class="u" x="656" y="555.6"/><text class="b" x="654" y="555.1">1e-06</text><text class="n" x="661" y="558.6">Aann_Aann9gi05822</text></g>
<g id="L71"><rect class="u" x="666" y="563.5"/><text class="b" x="664" y="563">0.0417</text><text class="n" x="671" y="566.5">Aiir_Aiir9gi05582</text></g>
<g id="L72"><rect class="u" x="661" y="571.4"/><text class="b" x="659" y="570.9">0.0278</text><text class="n" x="666" y="574.4">Aary_Aary9gi01802</text></g>
<g id="L73"><rect class="u" x="659" y="579.2"/><text class="b" x="657" y="578.7">1e-06</text><text class="n" x="664" y="582.2">Aary_Aary11gi01544</text></g>
<g id="L74"><rect class="u" x="652" y="587.1"/><text class="b" x="650" y="586.6">0.0297</text><text class="n" x="657" y="590.1">Echa_Echa7gi02759</text></g>
<g id="L75"><rect class="u" x="656" y="595"/><text class="b" x="654" y="594.5">1e-06</text><text class="n" x="661" y="598">Echma_Echma5gi02532</text></g>
<g id="L76"><rect class="u" x="652" y="602.9"/><text class="b" x="650" y="602.4">0.0294</text><text class="n" x="657" y="605.9">Ecind_Ecind4gi01707</text></g>
<g id="L77"><rect class="u" x="652" y="610.8"/><text class="b" x="650" y="610.3">0.0298</text><text class="n" x="657" y="613.8">Stro_Stro1gi01588</text></g>
<g id="L78"><rect class="u" x="539" y="618.6"/><text class="b" x="537" y="618.1">1e-06</text><text class="n" x="544" y="621.6">Echa_Echa7gi03171</text></g>
<g id="L79"><rect class="u" x="444" y="626.5"/><text class="b" x="442" y="626">0.0297</text><text class="n" x="449" y="629.5">Lomi_Lomi12gi00702</text></g>
<g id="L80"><rect class="u" x="479" y="634.4"/><text class="b" x="477" y="633.9">0.0325</text><text class="n" x="484" y="637.4">Lomi_Lomi6gi01495</text></g>
<g id="L81"><rect class="u" x="509" y="642.3"/><text class="b" x="507" y="641.8">0.0317</text><text class="n" x="514" y="645.3">Heuh_Heuh01000008.1gi01518</text></g>
<g id="L82"><rect class="u" x="509" y="650.2"/><text class="b" x="507" y="649.7">0.0319</text><text class="n" x="514" y="653.2">Psku_Psku5gi00898</text></g>
<g id="L83"><rect class="u" x="467" y="658"/><text class="b" x="465" y="657.5">1e-06</text><text class="n" x="472" y="661">Laca_Laca6gi03437</text></g>
<g id="L84"><rect class="u" x="471" y="665.9"/><text class="b" x="469" y="665.4">0.0322</text><text class="n" x="476" y="668.9">Lssa_Lssa4gi05445</text></g>
<g id="L85"><rect class="u" x="501" y="673.8"/><text class="b" x="499" y="673.3">0.0299</text><text class="n" x="506" y="676.8">Cich_Cich5gi04828</text></g>
<g id="L86"><rect class="u" x="497" y="681.7"/><text class="b" x="495" y="681.2">1e-06</text><text class="n" x="502" y="684.7">Cien_Cien5gi02745</text></g>
<g id="L87"><rect class="u" x="515" y="689.6"/><text class="b" x="513" y="689.1">0.0519</text><text class="n" x="520" y="692.6">Tako_Tako4gi00550</text></g>
<g id="L88"><rect class="u" x="821" y="697.4"/><text class="b" x="819" y="696.9">0.398</text><text class="n" x="826" y="700.4">Ecdr_Ecdr3gi04424</text></g>
<g id="L89"><rect class="u" x="642" y="705.3"/><text class="b" x="640" y="704.8">0.0985</text><text class="n" x="647" y="708.3">Sedy_Sedy8gi00554</text></g>
<g id="L90"><rect class="u" x="672" y="713.2"/><text class="b" x="670" y="712.7">0.0301</text><text class="n" x="677" y="716.2">Aria_Aria14gi00592</text></g>
<g id="L91"><rect class="u" x="671" y="721.1"/><text class="b" x="669" y="720.6">1e-06</text><text class="n" x="676" y="724.1">Armi_Armi14gi00535</text></g>
<g id="L92"><rect class="u" x="672" y="729"/><text class="b" x="670" y="728.5">0.0332</text><text class="n" x="677" y="732">Saan_Saan9gi01322</text></g>
<g id="L93"><rect class="u" x="672" y="736.8"/><text class="b" x="670" y="736.3">0.0330</text><text class="n" x="677" y="739.8">Ecar_Ecar7gi03443</text></g>
<g id="L94"><rect class="u" x="646" y="744.7"/><text class="b" x="644" y="744.2">0.0321</text><text class="n" x="651" y="747.7">Cali_Cali11gi00581</text></g>
<g id="L95"><rect class="u" x="769" y="752.6"/><text class="b" x="767" y="752.1">0.181</text><text class="n" x="774" y="755.6">Caco_Caco2gi02585</text></g>
<g id="L96"><rect class="u" x="656" y="760.5"/><text class="b" x="654" y="760">0.0331</text><text class="n" x="661" y="763.5">Cry_Cry9gi02427</text></g>
<g id="L97"><rect class="u" x="752" y="768.4"/><text class="b" x="750" y="767.9">0.0339</text><text class="n" x="757" y="771.4">Desu_Desu10000025gi00815</text></g>
<g id="L98"><rect class="u" x="758" y="776.2"/><text class="b" x="756" y="775.7">0.0404</text><text class="n" x="763" y="779.2">Desu_Desu10000025gi00816</text></g>
<g id="L99"><rect class="u" x="656" y="784.1"/><text class="b" x="654" y="783.6">0.0348</text><text class="n" x="661" y="787.1">Pin_Pin9gi07674</text></g>
<g id="L100"><rect class="u" x="757" y="792"/><text class="b" x="755" y="791.5">0.158</text><text class="n" x="762" y="795">Esa_Esa17gi01325</text></g>
<g id="L101"><rect class="u" x="637" y="799.9"/><text class="b" x="635" y="799.4">0.0577</text><text class="n" x="642" y="802.9">Taor_Taor9gi00522</text></g>
<g id="L102"><rect class="u" x="699" y="807.8"/><text class="b" x="697" y="807.3">1e-06</text><text class="n" x="704" y="810.8">Elapi_Elapi2gi00581</text></g>
<g id="L103"><rect class="u" x="706" y="815.6"/><text class="b" x="704" y="815.1">0.0357</text><text class="n" x="711" y="818.6">Elapi_Elapi1gi00587</text></g>
<g id="L104"><rect class="u" x="702" y="823.5"/><text class="b" x="700" y="823">0.0307</text><text class="n" x="707" y="826.5">Ecali_Ecali2gi02424</text></g>
<g id="L105"><rect class="u" x="729" y="831.4"/><text class="b" x="727" y="830.9">1e-06</text><text class="n" x="734" y="834.4">Bial_Bial1gi04130</text></g>
<g id="L106"><rect class="u" x="739" y="839.3"/><text class="b" x="737" y="838.8">0.0418</text><text class="n" x="744" y="842.3">Bial_Bial2gi01064</text></g>
<g id="L107"><rect class="u" x="714" y="847.2"/><text class="b" x="712" y="846.7">0.0379</text><text class="n" x="719" y="850.2">Hean_Hean11gi00253</text></g>
<g id="L108"><rect class="u" x="749" y="855"/><text class="b" x="747" y="854.5">0.0393</text><text class="n" x="754" y="858">Helu_Helu16gi00224</text></g>
<g id="L109"><rect class="u" x="832" y="862.9"/><text class="b" x="830" y="862.4">0.0671</text><text class="n" x="837" y="865.9">Hean_Hean12gi01537</text></g>
<g id="L110"><rect class="u" x="877" y="870.8"/><text class="b" x="875" y="870.3">0.0422</text><text class="n" x="882" y="873.8">Helu_Helu7gi02575</text></g>
<g id="L111"><rect class="u" x="877" y="878.7"/><text class="b" x="875" y="878.2">0</text><text class="n" x="882" y="881.7">Helu_Helu4gi00893</text></g>
<g id="L112"><rect class="u" x="877" y="886.6"/><text class="b" x="875" y="886.1">0</text><text class="n" x="882" y="889.6">Helu_Helu4gi00883</text></g>
<g id="L113"><rect class="u" x="767" y="894.4"/><text class="b" x="765" y="893.9">1e-06</text><text class="n" x="772" y="897.4">Helu_Helu5gi00397</text></g>
<g id="L114"><rect class="u" x="815" y="902.3"/><text class="b" x="813" y="901.8">0.0516</text><text class="n" x="820" y="905.3">Mimi_Mimi9gi01457</text></g>
<g id="L115"><rect class="u" x="817" y="910.2"/><text class="b" x="815" y="909.7">0.0541</text><text class="n" x="822" y="913.2">Stro_Stro9gi04544</text></g>
<g id="L116"><rect class="u" x="796" y="918.1"/><text class="b" x="794" y="917.6">1e-06</text><text class="n" x="801" y="921.1">Smsn_Smsn17gi01173</text></g>
<g id="L117"><rect class="u" x="809" y="926"/><text class="b" x="807" y="925.5">0.0442</text><text class="n" x="814" y="929">Smsn_Smsn15gi01524</text></g>
<g id="L118"><rect class="u" x="771" y="933.8"/><text class="b" x="769" y="933.3">1e-06</text><text class="n" x="776" y="936.8">Era_Era5gi00854</text></g>
<g id="L119"><rect class="u" x="814" y="941.7"/><text class="b" x="812" y="941.2">0.0393</text><text class="n" x="819" y="944.7">Era_Era1gi00784</text></g>
<g id="L120"><rect class="u" x="871" y="949.6"/><text class="b" x="869" y="949.1">0.0418</text><text class="n" x="876" y="952.6">Ebl_Ebl15000838gi00001</text></g>
<g id="L121"><rect class="u" x="862" y="957.5"/><text class="b" x="860" y="957">1e-06</text><text class="n" x="867" y="960.5">Ebr_Ebl4gi00858</text></g>
<g id="L122"><rect class="u" x="861" y="965.4"/><text class="b" x="859" y="964.9">1e-06</text><text class="n" x="866" y="968.4">Eli_Eli3gi00529</text></g>
<g id="L123"><rect class="u" x="904" y="973.2"/><text class="b" x="902" y="972.7">0.0393</text><text class="n" x="909" y="976.2">Ecbr_Ebl15000383gi00001</text></g>
<g id="L124"><rect class="u" x="896" y="981.1"/><text class="b" x="894" y="980.6">1e-06</text><text class="n" x="901" y="984.1">Ebl_Ebl10000588gi00001</text></g>
<g id="L125"><rect class="u" x="734" y="989"/><text class="b" x="732" y="988.5">0.0332</text><text class="n" x="739" y="992">Amir_Amir16gi00229</text></g>
<g id="L126"><rect class="u" x="767" y="996.9"/><text class="b" x="765" y="996.4">0.0384</text><text class="n" x="772" y="999.9">Amar_Amar000004gi00003</text></g>
<g id="L127"><rect class="u" x="767" y="1004.8"/><text class="b" x="765" y="1004.3">0.0388</text><text class="n" x="772" y="1007.8">Amar_Amar000004gi00008</text></g>
</g>
<g id="scale-bar">
<path class="e" d="M1,1013H41M1,1010.5V1015.5M41,1010.5V1015.5"/>
<text class="n" x="7" y="1021" style="letter-spacing:1px">0.05</text>
</g>
</svg>
